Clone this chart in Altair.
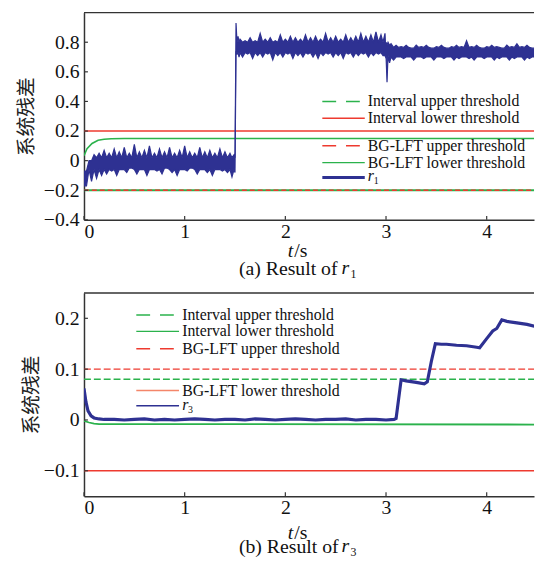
import altair as alt
import pandas as pd

# ---------------- Panel (a): r1 (upper / lower edge of the noisy trace) ----------------
seg1_t = [round(0.05 * i, 2) for i in range(30)] + [1.49]
seg1_hi = [-0.07, 0.00, 0.04, 0.05, 0.07, 0.05, 0.08, 0.06, 0.09, 0.05, 0.11, 0.06, 0.07, 0.10, 0.05,
           0.08, 0.06, 0.09, 0.05, 0.07, 0.10, 0.06, 0.05, 0.09, 0.06, 0.07, 0.05, 0.08, 0.06, 0.05, 0.04]
seg1_lo = [-0.17, -0.14, -0.12, -0.10, -0.09, -0.07, -0.10, -0.06, -0.08, -0.05, -0.09, -0.06, -0.10, -0.06, -0.07,
           -0.09, -0.05, -0.08, -0.10, -0.06, -0.07, -0.05, -0.09, -0.06, -0.08, -0.10, -0.06, -0.07, -0.08, -0.11, -0.08]
seg1_core = (-0.06, 0.02)
seg2_t = [1.51, 1.53] + [round(1.55 + 0.05 * i, 2) for i in range(29)]
seg2_hi = [0.93, 0.84, 0.82, 0.81, 0.83, 0.81, 0.86, 0.82, 0.83, 0.81, 0.85, 0.82, 0.84, 0.83, 0.82, 0.85,
           0.83, 0.84, 0.82, 0.86, 0.83, 0.84, 0.82, 0.85, 0.83, 0.84, 0.86, 0.84, 0.85, 0.87, 0.85]
seg2_lo = [0.72, 0.70, 0.70, 0.72, 0.69, 0.71, 0.70, 0.72, 0.68, 0.71, 0.70, 0.72, 0.69, 0.71, 0.70, 0.72,
           0.70, 0.69, 0.71, 0.72, 0.70, 0.71, 0.69, 0.72, 0.70, 0.71, 0.72, 0.70, 0.71, 0.72, 0.71]
seg2_core = (0.73, 0.80)
dip_t = [2.99, 3.00, 3.02]
dip_hi = [0.86, 0.80, 0.80]
dip_lo = [0.70, 0.53, 0.66]
dip_core = (0.71, 0.78)
seg3_t = [round(3.05 + 0.05 * i, 2) for i in range(30)]
seg3_hi = [0.79, 0.78, 0.77, 0.78, 0.76, 0.78, 0.77, 0.78, 0.76, 0.77, 0.78, 0.76, 0.77, 0.78, 0.77,
           0.81, 0.77, 0.78, 0.76, 0.77, 0.78, 0.77, 0.76, 0.78, 0.77, 0.79, 0.77, 0.78, 0.76, 0.77]
seg3_lo = [0.68, 0.70, 0.69, 0.70, 0.68, 0.70, 0.69, 0.70, 0.68, 0.70, 0.69, 0.70, 0.68, 0.69, 0.70,
           0.69, 0.68, 0.70, 0.69, 0.70, 0.68, 0.69, 0.70, 0.68, 0.69, 0.70, 0.68, 0.69, 0.70, 0.69]
seg3_core = (0.70, 0.765)

a_green_t = [0, 0.03, 0.08, 0.14, 0.2, 0.27, 0.4, 4.5]
a_green_v = [0.033, 0.08, 0.116, 0.138, 0.145, 0.148, 0.15, 0.15]
a_red_v = 0.2
a_low_v = -0.2

# ---------------- Panel (b): r3 ----------------
r3_t = ([0, 0.02, 0.04, 0.07, 0.10, 0.15, 0.20] + [round(0.3 + 0.1 * i, 1) for i in range(28)] +
        [3.08, 3.10, 3.15, 3.20, 3.30, 3.38, 3.41, 3.45, 3.49, 3.55, 3.60, 3.70, 3.80, 3.90, 3.93,
         4.00, 4.06, 4.10, 4.15, 4.20, 4.30, 4.40, 4.50])
r3_v = ([0.062, 0.035, 0.018, 0.008, 0.004, 0.002, 0.001] +
        [0.001, 0.000, 0.001, 0.002, 0.000, 0.001, 0.000, 0.001, 0.002, 0.001, 0.000, 0.001, 0.001, 0.000,
         0.002, 0.001, 0.000, 0.001, 0.002, 0.001, 0.000, 0.001, 0.001, 0.002, 0.000, 0.001, 0.001, 0.000] +
        [0.001, 0.003, 0.079, 0.077, 0.074, 0.071, 0.075, 0.115, 0.150, 0.149, 0.149, 0.147, 0.146, 0.143,
         0.142, 0.160, 0.175, 0.180, 0.197, 0.194, 0.191, 0.188, 0.183])
b_green_t = [0, 0.05, 0.1, 0.15, 0.3, 4.5]
b_green_v = [-0.002, -0.005, -0.007, -0.008, -0.008, -0.009]
b_red_dash_v = 0.1
b_green_dash_v = 0.08
b_red_v = -0.1

x_ticks = [0, 1, 2, 3, 4]
a_y_ticks = [-0.4, -0.2, 0, 0.2, 0.4, 0.6, 0.8]
b_y_ticks = [-0.1, 0, 0.1, 0.2]

BLUE = "#2e3192"
RED = "#ee3a2f"
GREEN = "#2bb24c"
SALMON = "#f4866a"
SERIF = "Liberation Serif, Times New Roman, serif"
CJK = "Noto Sans CJK SC"
W = 456
XMAX = 4.47

dummy = pd.DataFrame({"d": [0]})


def xenc():
    return alt.X("t:Q", scale=alt.Scale(domain=[0, XMAX], nice=False, zero=False),
                 axis=alt.Axis(values=x_ticks, title=None, ticks=False, grid=False, labelPadding=2,
                               format="d", labelFont=SERIF, labelFontSize=20, labelColor="#111",
                               labelOverlap=False, domainColor="#333", domainWidth=1.5))


def yaxis(tpad, ticks):
    return alt.Axis(values=ticks, title="系统残差", ticks=False, grid=False, labelPadding=5,
                    format=".1~f", labelFont=SERIF, labelFontSize=20, labelColor="#111",
                    labelOverlap=False, domainColor="#333", domainWidth=1.5, titleFont=CJK,
                    titleFontSize=20, titleFontWeight="normal", titleColor="#222", titlePadding=tpad)


def yenc(domain, ticks, tpad, field="v"):
    return alt.Y(field + ":Q", scale=alt.Scale(domain=domain, nice=False, zero=False),
                 axis=yaxis(tpad, ticks))


def hline(t, v, color, yv, dash=None, width=1.5):
    df = pd.DataFrame({"t": t, "v": v})
    kw = dict(color=color, strokeWidth=width, clip=True)
    if dash:
        kw["strokeDash"] = dash
    return alt.Chart(df).mark_line(**kw).encode(x=xenc(), y=yv)


def txt(x, y, s, size=16, italic=False, align="left"):
    kw = dict(font=SERIF, fontSize=size, align=align, baseline="middle", color="#111")
    if italic:
        kw["fontStyle"] = "italic"
    return alt.Chart(dummy).mark_text(**kw).encode(x=alt.value(x), y=alt.value(y), text=alt.value(s))


def leg(x0, x1, tx, y, color, label, dash=None, width=1.5, sub=None):
    kw = dict(color=color, strokeWidth=width)
    if dash:
        kw["strokeDash"] = dash
    layers = [alt.Chart(dummy).mark_rule(**kw).encode(x=alt.value(x0), x2=alt.value(x1), y=alt.value(y))]
    if sub is None:
        layers.append(txt(tx, y, label))
    else:
        layers.append(txt(tx, y - 1, label, italic=True))
        layers.append(txt(tx + 6, y + 4, sub, size=10))
    return layers


def frame(yv, yt, H):
    xt = pd.DataFrame({"t": x_ticks})
    yt_df = pd.DataFrame({"v": yt})
    return [
        alt.Chart(xt).mark_rule(color="#333", strokeWidth=1.2).encode(
            x=xenc(), y=alt.value(H), y2=alt.value(H - 4)),
        alt.Chart(yt_df).mark_rule(color="#333", strokeWidth=1.2).encode(
            y=yv, x=alt.value(0), x2=alt.value(4)),
        alt.Chart(dummy).mark_rule(color="#333", strokeWidth=1.5).encode(
            x=alt.value(0), x2=alt.value(W), y=alt.value(0)),
    ]


def captions(ts_y, cap_y, letter, sub):
    return [
        txt(212, ts_y, "t", size=20, italic=True, align="right"),
        txt(213, ts_y, "/s", size=20),
        txt(157, cap_y, "(" + letter + ") Result of", size=20),
        txt(261, cap_y - 1, "r", size=20, italic=True),
        txt(270, cap_y + 5, sub, size=12),
    ]


# ----- panel a -----
HA = 210
ADOM = [-0.4, 1.0]
ya = yenc(ADOM, a_y_ticks, 7)
segments = [(seg1_t, seg1_hi, seg1_lo, seg1_core), (seg2_t, seg2_hi, seg2_lo, seg2_core),
            (dip_t, dip_hi, dip_lo, dip_core), (seg3_t, seg3_hi, seg3_lo, seg3_core)]
all_t = seg1_t + seg2_t + dip_t + seg3_t
rows = []
k = 0
for ts, his, los, (c_lo, c_hi) in segments:
    for t, h, l in zip(ts, his, los):
        nxt = all_t[k + 1] if k + 1 < len(all_t) else t + 0.05
        half = round(t + min(0.025, (nxt - t) / 2), 4)
        # upper edge spikes to the read maximum, lower edge to the read minimum
        rows.append({"t": t, "top": h, "bot": max(c_lo, l) if c_lo < h else l})
        rows.append({"t": half, "top": min(c_hi, h) if c_hi > l else h, "bot": l})
        k += 1
r1 = pd.DataFrame(rows)
yscale_a = alt.Scale(domain=ADOM, nice=False, zero=False)
band_a = alt.Chart(r1).mark_area(color=BLUE, clip=True, opacity=1).encode(
    x=xenc(), y=alt.Y("top:Q", scale=yscale_a, axis=yaxis(7, a_y_ticks)), y2="bot:Q")
edge_hi = alt.Chart(r1).mark_line(color=BLUE, strokeWidth=1.2, clip=True).encode(
    x=xenc(), y=alt.Y("top:Q", scale=yscale_a, axis=yaxis(7, a_y_ticks)))
edge_lo = alt.Chart(r1).mark_line(color=BLUE, strokeWidth=1.2, clip=True).encode(
    x=xenc(), y=alt.Y("bot:Q", scale=yscale_a, axis=yaxis(7, a_y_ticks)))

layers_a = [hline([0, 4.5], [a_red_v, a_red_v], RED, ya, width=1.6),
            hline(a_green_t, a_green_v, GREEN, ya, width=1.6),
            hline([0, 4.5], [a_low_v, a_low_v], GREEN, ya, width=1.8),
            hline([0, 4.5], [a_low_v, a_low_v], RED, ya, dash=[5, 3], width=1.3),
            band_a, edge_hi, edge_lo]
layers_a += frame(ya, a_y_ticks, HA)
layers_a += leg(241.5, 279.5, 287.5, 90, GREEN, "Interval upper threshold", dash=[14, 10])
layers_a += leg(241.5, 284.5, 287.5, 107, RED, "Interval lower threshold")
layers_a += leg(241.5, 279.5, 287.5, 135, RED, "BG-LFT upper threshold", dash=[14, 10])
layers_a += leg(241.5, 284.5, 287.5, 152, GREEN, "BG-LFT lower threshold")
layers_a += leg(241.5, 284.5, 287.5, 167, BLUE, "r", width=3, sub="1")
layers_a += captions(242, 260, "a", "1")
panel_a = alt.layer(*layers_a).properties(width=W, height=HA)

# ----- panel b -----
HB = 206
yb = yenc([-0.15, 0.25], b_y_ticks, 2)
r3 = pd.DataFrame({"t": r3_t, "v": r3_v})
line_b = alt.Chart(r3).mark_line(color=BLUE, strokeWidth=3.2, clip=True).encode(x=xenc(), y=yb)
layers_b = [hline([0, 4.5], [b_red_dash_v, b_red_dash_v], RED, yb, dash=[7, 3], width=1.5),
            hline([0, 4.5], [b_green_dash_v, b_green_dash_v], GREEN, yb, dash=[7, 3], width=1.5),
            hline([0, 4.5], [b_red_v, b_red_v], RED, yb, width=1.6),
            hline(b_green_t, b_green_v, GREEN, yb, width=1.8),
            line_b]
layers_b += frame(yb, b_y_ticks, HB)
layers_b += leg(53, 91, 99.5, 22.4, GREEN, "Interval upper threshold", dash=[14, 10])
layers_b += leg(53, 96.3, 99.5, 39, GREEN, "Interval lower threshold")
layers_b += leg(53, 91, 99.5, 56.7, RED, "BG-LFT upper threshold", dash=[14, 10])
layers_b += leg(53, 96.3, 99.5, 99, SALMON, "BG-LFT lower threshold")
layers_b += leg(53, 96.3, 99.5, 114.4, BLUE, "r", width=1.5, sub="3")
layers_b += captions(243, 258, "b", "3")
panel_b = alt.layer(*layers_b).properties(width=W, height=HB)

chart = alt.VConcatChart(
    vconcat=[panel_a, panel_b], spacing=12,
    padding={"left": 8, "top": 0, "right": 0, "bottom": 0},
).configure_view(stroke=None)

chart.save("out.html", embed_options={"renderer": "svg", "actions": False})
